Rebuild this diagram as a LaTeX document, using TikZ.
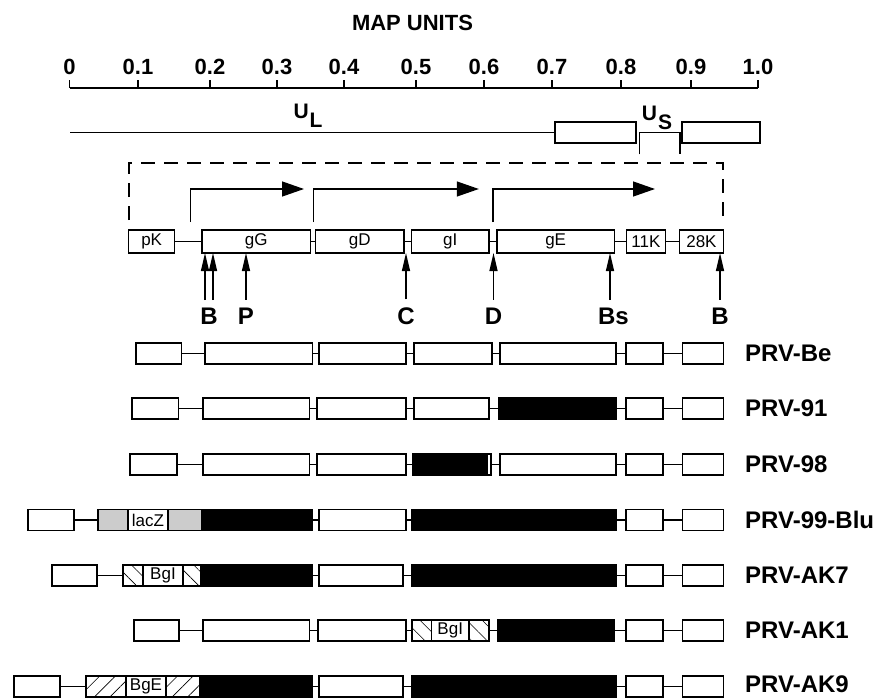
\documentclass[tikz,border=0pt]{standalone}
\usepackage{fontspec}
\setmainfont{Liberation Sans}
\usetikzlibrary{arrows.meta,patterns.meta,positioning}
\newcommand\gseg[6]{\node[#5,minimum width={#3-#2},anchor=west] (#1) at (#2,#4) {#6};}
\tikzset{
  gen/.style={draw,line width=1.3pt,fill=white,inner sep=0pt,outer sep=0pt,minimum height=21pt,font=\fontsize{17}{17}\selectfont},
  row0/.style={gen,minimum height=23pt},
  del/.style={gen,fill=black},
  lacz/.style={gen,fill=gray!40},
  hatchL/.style={gen,pattern={Lines[angle=-45,distance=11pt,line width=0.6pt]}},
  hatchR/.style={gen,pattern={Lines[angle=45,distance=11pt,line width=0.6pt]}},
  lnk/.style={line width=1.3pt},
  site/.style={line width=1.3pt,-{Triangle[length=18pt,width=8pt]}},
  prom/.style={line width=1.3pt,-{Triangle[length=22pt,width=15pt]}},
  brk/.style={line width=1.3pt,dash pattern=on 14pt off 9pt},
  big/.style={font=\bfseries\fontsize{24}{24}\selectfont,inner sep=0pt},
  num/.style={font=\bfseries\fontsize{22}{22}\selectfont,inner sep=0pt}
}

\begin{document}
\begin{tikzpicture}[x=1pt,y=-1pt]
\useasboundingbox (0,0) rectangle (881,698);
% scale
\node[num] (title) at (412.5,22.5) {MAP UNITS};
\foreach \x/\t [count=\i] in {69.5/0,138/0.1,210/0.2,277/0.3,344/0.4,416/0.5,484/0.6,552/0.7,621/0.8,691/0.9,758/1.0}{
  \coordinate (t\i) at (\x,88);
  \draw[lnk] (t\i) -- ++(0,-8);
  \node[num] (n\i) at (\x,66.5) {\t};
}
\draw[lnk] (t1) -- (t11);
% genome
\gseg{ir1}{555}{636}{132.5}{gen}{}
\gseg{ir2}{682}{760}{132.5}{gen}{}
\coordinate (ul) at (70,132.5);
\draw[lnk] (ul) -- (ir1);
\coordinate (us1) at (639.5,132.5);
\coordinate (us2) at (680,132.5);
\draw[lnk] (us1) ++(0,22) -- (us1) -- (us2) -- ++(0,22);
\node[big,font=\bfseries\fontsize{21}{21}\selectfont] (UL) at (308,115.5) {U\kern1pt\raisebox{-9pt}{L}};
\node[big,font=\bfseries\fontsize{21}{21}\selectfont] (US) at (657,118) {U\kern1pt\raisebox{-9pt}{S}};
% gene map
\gseg{pK}{128.6}{174.7}{241.5}{row0}{pK}
\gseg{gG}{202}{310.6}{241.5}{row0}{gG}
\gseg{gD}{315.5}{404}{241.5}{row0}{gD}
\gseg{gI}{411.4}{489}{241.5}{row0}{gI}
\gseg{gE}{497}{614.3}{241.5}{row0}{gE}
\gseg{k11}{626.5}{665.3}{241.5}{row0}{11K}
\gseg{k28}{679.6}{723.3}{241.5}{row0}{28K}
\foreach \a/\b in {pK/gG,gG/gD,gD/gI,gI/gE,gE/k11,k11/k28} \draw[lnk] (\a) -- (\b);
\coordinate (d1) at (129,220);
\coordinate (d2) at (723,220);
\draw[brk] (d1) -- ++(0,-57) -| (d2);
% transcripts
\coordinate (p1) at (190.6,222);
\coordinate (p2) at (313.5,222);
\coordinate (p3) at (493,222);
\draw[prom] (p1) |- ++(113.4,-33);
\draw[prom] (p2) |- ++(165.3,-33);
\draw[prom] (p3) |- ++(162,-33);
% sites
\node[big] (sB1) at (209,316) {B};
\node[big] (sP) at (246,316) {P};
\node[big] (sC) at (406,316) {C};
\node[big] (sD) at (493.5,316) {D};
\node[big] (sBs) at (613.5,316) {Bs};
\node[big] (sB2) at (720,316) {B};
\coordinate (a1) at (205,300);
\coordinate (a2) at (213,300);
\coordinate (a3) at (610,300);
\draw[site] (a1) -- (a1 |- gG.south);
\draw[site] (a2) -- (a2 |- gG.south);
\draw[site] ([yshift=8pt]sP.north) -- (sP |- gG.south);
\draw[site] ([yshift=8pt]sC.north) -- (sC |- gD.south);
\draw[site] ([yshift=8pt]sD.north) -- (sD |- gE.south);
\draw[site] (a3) -- (a3 |- gE.south);
\draw[site] ([yshift=8pt]sB2.north) -- (sB2 |- k28.south);
% PRV-Be
\gseg{be1}{136}{181.5}{353.5}{gen}{}
\gseg{be2}{205}{312.4}{353.5}{gen}{}
\gseg{be3}{319}{406}{353.5}{gen}{}
\gseg{be4}{414}{492}{353.5}{gen}{}
\gseg{be5}{500}{616}{353.5}{gen}{}
\node[big,anchor=west] (lbe) at (745,353.5) {PRV-Be};
% PRV-91
\gseg{nn1}{132}{178.6}{408.5}{gen}{}
\gseg{nn2}{203}{309.5}{408.5}{gen}{}
\gseg{nn3}{317}{406}{408.5}{gen}{}
\gseg{nn4}{414}{489}{408.5}{gen}{}
\gseg{nn5}{499}{616}{408.5}{del}{}
\node[big,anchor=west] (lnn) at (745,408.5) {PRV-91};
% PRV-98
\gseg{ne1}{130}{177}{464.5}{gen}{}
\gseg{ne2}{203}{309.5}{464.5}{gen}{}
\gseg{ne3}{317}{406}{464.5}{gen}{}
\gseg{ne4}{413}{491}{464.5}{gen}{}
\gseg{ne4b}{413}{487}{464.5}{del}{}
\gseg{ne5}{500}{616}{464.5}{gen}{}
\node[big,anchor=west] (lne) at (745,464.5) {PRV-98};
% PRV-99-Blu
\gseg{bl1}{28}{74}{520}{gen}{}
\gseg{bl2}{98}{202}{520}{lacz}{}
\gseg{blz}{128}{168}{520}{gen}{lacZ}
\gseg{bl3}{203}{312}{520}{del}{}
\gseg{bl4}{319}{406}{520}{gen}{}
\gseg{bl5}{412}{616}{520}{del}{}
\node[big,anchor=west] (lbl) at (745,520) {PRV-99-Blu};
% PRV-AK7
\gseg{sv1}{52}{97}{575.5}{gen}{}
\gseg{sv2}{123}{201}{575.5}{hatchL}{}
\gseg{svz}{143}{183}{575.5}{gen}{BgI}
\gseg{sv3}{201}{312}{575.5}{del}{}
\gseg{sv4}{319}{403}{575.5}{gen}{}
\gseg{sv5}{412}{616}{575.5}{del}{}
\node[big,anchor=west] (lsv) at (745,575.5) {PRV-AK7};
% PRV-AK1
\gseg{on1}{134}{179}{630.5}{gen}{}
\gseg{on2}{203}{309.5}{630.5}{gen}{}
\gseg{on3}{318}{406}{630.5}{gen}{}
\gseg{on4}{412}{489}{630.5}{hatchL}{}
\gseg{onz}{431.5}{469}{630.5}{gen}{BgI}
\gseg{on5}{498}{614}{630.5}{del}{}
\node[big,anchor=west] (lon) at (745,630.5) {PRV-AK1};
% PRV-AK9
\gseg{ni1}{14}{60}{686.5}{gen}{}
\gseg{ni2}{86}{200}{686.5}{hatchR}{}
\gseg{niz}{126}{166}{686.5}{gen}{BgE}
\gseg{ni3}{201}{312}{686.5}{del}{}
\gseg{ni4}{319}{403}{686.5}{gen}{}
\gseg{ni5}{412}{616}{686.5}{del}{}
\node[big,anchor=west] (lni) at (745,684.5) {PRV-AK9};
% 11K and 28K in every strain
\foreach \r/\y in {be/353.5,nn/408.5,ne/464.5,bl/520,sv/575.5,on/630.5,ni/686.5}{
  \gseg{\r6}{626}{663}{\y}{gen}{}
  \gseg{\r7}{682.6}{723.6}{\y}{gen}{}
  \draw[lnk] (\r5) -- (\r6);
  \draw[lnk] (\r6) -- (\r7);
}
% joins
\foreach \a/\b in {be1/be2,be2/be3,be3/be4,be4/be5,nn1/nn2,nn2/nn3,nn3/nn4,nn4/nn5,
  ne1/ne2,ne2/ne3,ne3/ne4,ne4/ne5,bl1/bl2,bl3/bl4,bl4/bl5,sv1/sv2,sv3/sv4,sv4/sv5,
  on1/on2,on2/on3,on3/on4,on4/on5,ni1/ni2,ni3/ni4,ni4/ni5}
  \draw[lnk] (\a) -- (\b);
\end{tikzpicture}
\end{document}
